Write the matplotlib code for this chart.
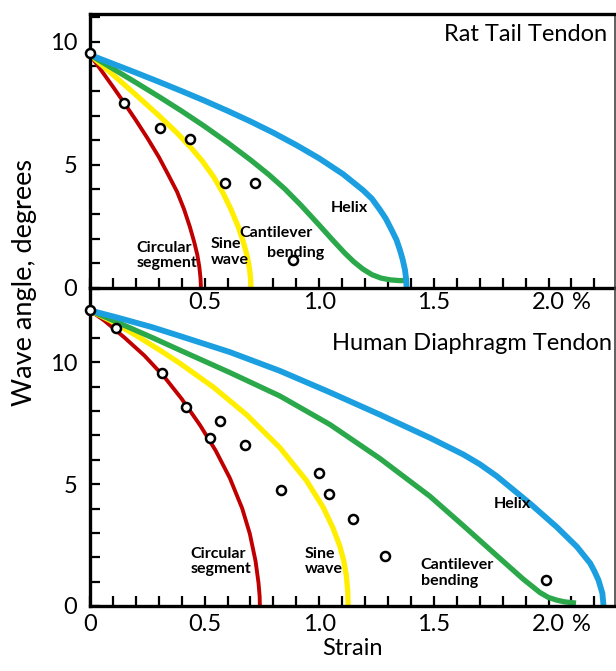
import numpy as np
import matplotlib
matplotlib.use("Agg")
import matplotlib.pyplot as plt
from matplotlib.ticker import MultipleLocator, FixedLocator

plt.rcParams.update({"font.family": ["Lato", "DejaVu Sans"], "font.size": 16})

RED, YEL, GRN, BLU = "#c00000", "#ffee00", "#2aa84a", "#1b9fe0"

# ---------- data: rat tail tendon ----------
rat_pts_x = [0.0, 0.148, 0.305, 0.435, 0.59, 0.72, 0.886]
rat_pts_y = [9.53, 7.5, 6.48, 6.05, 4.25, 4.25, 1.14]

rat_circ_x = [0.0, 0.05, 0.10, 0.15, 0.20, 0.25, 0.30, 0.34, 0.38, 0.41, 0.435, 0.455,
              0.468, 0.477, 0.482, 0.484]
rat_circ_y = [9.46, 8.82, 8.17, 7.50, 6.81, 6.09, 5.32, 4.62, 3.90, 3.20, 2.50, 1.85,
              1.35, 0.85, 0.40, 0.0]

rat_sine_x = [0.0, 0.10, 0.20, 0.30, 0.38, 0.44, 0.49, 0.54, 0.58, 0.615, 0.645, 0.665,
              0.68, 0.69, 0.697, 0.701, 0.702]
rat_sine_y = [9.46, 8.66, 7.84, 7.00, 6.29, 5.70, 5.15, 4.50, 3.86, 3.19, 2.52, 1.98,
              1.50, 1.10, 0.70, 0.30, 0.0]

rat_cant_x = [0.0, 0.1, 0.2, 0.3, 0.4, 0.5, 0.6, 0.7, 0.78, 0.85, 0.92, 1.0, 1.06, 1.11,
              1.15, 1.19, 1.23, 1.27, 1.31, 1.35, 1.39]
rat_cant_y = [9.46, 8.90, 8.34, 7.77, 7.18, 6.56, 5.90, 5.20, 4.60, 4.02, 3.36, 2.55, 1.93, 1.43,
              1.07, 0.77, 0.54, 0.40, 0.33, 0.30, 0.30]

rat_helix_x = [0.0, 0.1, 0.2, 0.3, 0.4, 0.5, 0.6, 0.7, 0.8, 0.9, 1.0, 1.104, 1.192, 1.23,
               1.265, 1.29, 1.316, 1.337, 1.352, 1.364, 1.374, 1.379, 1.381]
rat_helix_y = [9.46, 9.10, 8.74, 8.37, 7.99, 7.60, 7.19, 6.76, 6.30, 5.80, 5.26, 4.62, 3.96, 3.62,
               3.17, 2.82, 2.35, 1.95, 1.54, 1.15, 0.73, 0.35, 0.0]

# ---------- data: human diaphragm tendon ----------
hum_pts_x = [0.0, 0.115, 0.314, 0.42, 0.566, 0.522, 0.678, 0.835, 0.998, 1.043, 1.148, 1.286, 1.99]
hum_pts_y = [12.13, 11.42, 9.56, 8.18, 7.61, 6.9, 6.61, 4.74, 5.45, 4.61, 3.55, 2.06, 1.06]

hum_circ_x = [0.0, 0.064, 0.151, 0.238, 0.326, 0.40, 0.48, 0.548, 0.61, 0.664, 0.697,
              0.722, 0.735, 0.740, 0.741]
hum_circ_y = [12.13, 11.70, 11.01, 10.27, 9.38, 8.50, 7.42, 6.38, 5.25, 4.00, 2.97,
              1.85, 0.95, 0.40, 0.0]

hum_sine_x = [0.0, 0.093, 0.195, 0.311, 0.392, 0.537, 0.683, 0.828, 0.944, 1.017, 1.06,
              1.09, 1.107, 1.118, 1.124, 1.126]
hum_sine_y = [12.13, 11.69, 11.14, 10.46, 9.96, 8.99, 7.85, 6.50, 5.15, 4.05, 3.20,
              2.45, 1.85, 1.25, 0.65, 0.0]

hum_cant_x = [0.0, 0.122, 0.268, 0.392, 0.61, 0.828, 1.046, 1.265, 1.483, 1.628, 1.774,
              1.89, 1.963, 2.0, 2.036, 2.07, 2.109, 2.12]
hum_cant_y = [12.13, 11.63, 11.03, 10.50, 9.58, 8.62, 7.45, 6.05, 4.50, 3.30, 2.07,
              1.10, 0.55, 0.35, 0.24, 0.17, 0.13, 0.12]

hum_helix_x = [0.0, 0.122, 0.268, 0.392, 0.61, 0.828, 1.046, 1.265, 1.483, 1.628, 1.70,
               1.774, 1.92, 2.036, 2.124, 2.182, 2.20, 2.218, 2.235, 2.24]
hum_helix_y = [12.13, 11.83, 11.45, 11.08, 10.42, 9.65, 8.77, 7.85, 6.90, 6.22, 5.82,
               5.33, 4.20, 3.24, 2.43, 1.75, 1.43, 1.06, 0.52, 0.0]

W, H = 616, 671
fig = plt.figure(figsize=(W / 100, H / 100), dpi=100)
ax1 = fig.add_axes([90 / W, 1 - 288 / H, 525 / W, 274 / H])
ax2 = fig.add_axes([90 / W, 1 - 606 / H, 525 / W, 318 / H])
ax2.patch.set_visible(False)


def draw(ax, curves, px, py):
    for (cx, cy), col, lw in zip(curves, [RED, YEL, GRN, BLU], [2.8, 3.8, 3.8, 4.2]):
        ax.plot(cx, cy, color=col, lw=lw, solid_capstyle="butt", solid_joinstyle="round", zorder=2)
    ax.plot(px, py, "o", ms=6.5, mfc="white", mec="black", mew=1.8, zorder=4, clip_on=False)
    ax.set_xlim(0, 2.29)
    ax.xaxis.set_major_locator(FixedLocator([0, 0.5, 1.0, 1.5, 2.0]))
    ax.xaxis.set_minor_locator(MultipleLocator(0.1))
    ax.yaxis.set_major_locator(MultipleLocator(5))
    ax.yaxis.set_minor_locator(MultipleLocator(1))
    ax.tick_params(which="both", direction="in", length=7, width=1.6, labelsize=17)
    ax.tick_params(axis="y", pad=9)
    for s in ["left", "bottom"]:
        ax.spines[s].set_linewidth(2.4)
    ax.spines["right"].set_linewidth(1.2)
    ax.spines["right"].set_color("#444444")


draw(ax1, [(rat_circ_x, rat_circ_y), (rat_sine_x, rat_sine_y), (rat_cant_x, rat_cant_y),
           (rat_helix_x, rat_helix_y)], rat_pts_x, rat_pts_y)
draw(ax2, [(hum_circ_x, hum_circ_y), (hum_sine_x, hum_sine_y), (hum_cant_x, hum_cant_y),
           (hum_helix_x, hum_helix_y)], hum_pts_x, hum_pts_y)

ax1.set_ylim(0, 11.12)
ax1.spines["top"].set_linewidth(2.4)
ax1.set_xticklabels(["", "0.5", "1.0", "1.5", "2.0"])
ax1.tick_params(axis="x", pad=3)
ax2.set_ylim(0, 13.05)
ax2.spines["top"].set_visible(False)
ax2.set_xticklabels(["0", "0.5", "1.0", "1.5", "2.0"])
ax2.tick_params(axis="x", pad=6)
ax2.set_xlabel("Strain", fontsize=17, labelpad=2)

# "%" after the 2.0 labels
ax1.annotate("%", xy=(2.0, 0), xycoords=("data", "axes fraction"), xytext=(17, -3),
             textcoords="offset points", ha="left", va="top", fontsize=17)
ax2.annotate("%", xy=(2.0, 0), xycoords=("data", "axes fraction"), xytext=(17, -6),
             textcoords="offset points", ha="left", va="top", fontsize=17)

fig.text(25 / W, 1 - 283 / H, "Wave angle, degrees", rotation=90, ha="center", va="center", fontsize=19.5)

ax1.text(0.985, 0.925, "Rat Tail Tendon", transform=ax1.transAxes, ha="right", va="center", fontsize=17)
ax2.text(0.995, 0.825, "Human Diaphragm Tendon", transform=ax2.transAxes, ha="right", va="center", fontsize=17)

lab = dict(fontsize=11.5, fontweight="bold", linespacing=1.15, zorder=5)
ax1.text(0.202, 1.32, "Circular\nsegment", ha="left", va="center", **lab)
ax1.text(0.527, 1.46, "Sine\nwave", ha="left", va="center", **lab)
ax1.text(0.813, 2.25, "Cantilever", ha="center", va="center", **lab)
ax1.text(0.897, 1.42, "bending", ha="center", va="center", **lab)
ax1.text(1.13, 3.24, "Helix", ha="center", va="center", **lab)

ax2.text(0.439, 1.82, "Circular\nsegment", ha="left", va="center", **lab)
ax2.text(0.937, 1.82, "Sine\nwave", ha="left", va="center", **lab)
ax2.text(1.442, 1.35, "Cantilever\nbending", ha="left", va="center", **lab)
ax2.text(1.841, 4.17, "Helix", ha="center", va="center", **lab)

fig.savefig("out.png", dpi=100)
